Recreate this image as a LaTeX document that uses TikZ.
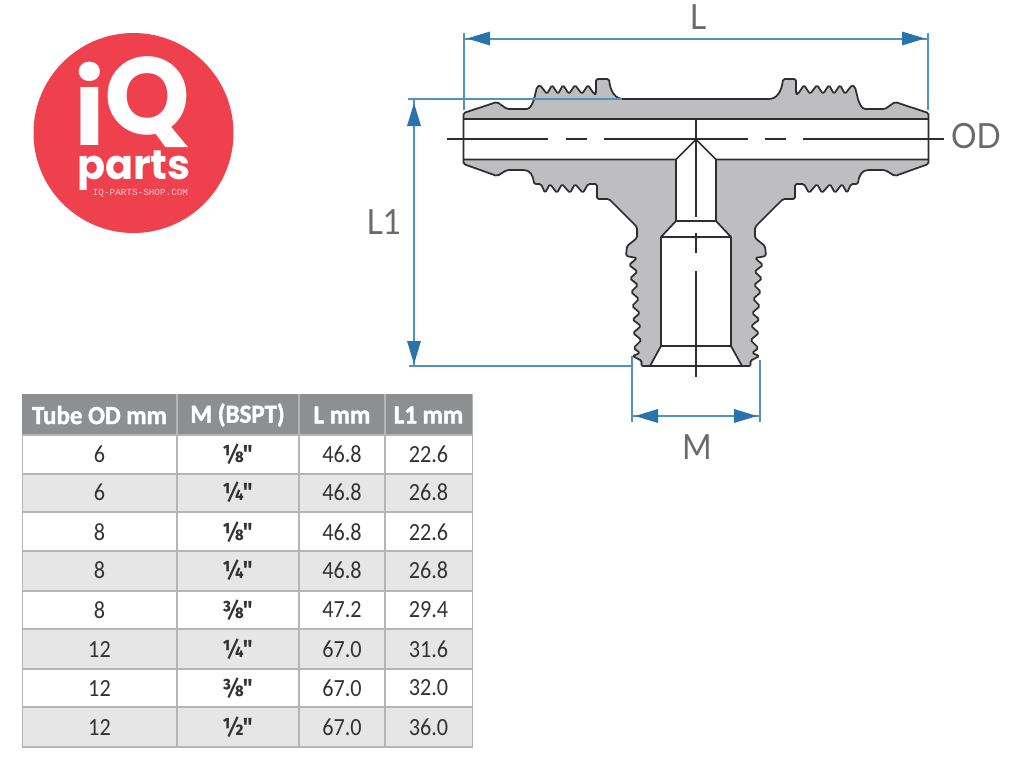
\documentclass[tikz,border=0pt]{standalone}
\usepackage{fontspec}
\setmainfont[FakeStretch=0.92]{Lato}
\newfontfamily\logofont{Poppins}
\newfontfamily\urlfont{Liberation Mono}
\newfontfamily\tablefont[FakeStretch=0.9]{Carlito}
\newfontfamily\headfont[FakeStretch=0.96,BoldFeatures={FakeBold=1.6}]{Carlito}
\newfontfamily\fracfont[FakeStretch=0.9]{Fira Sans}
\definecolor{logored}{HTML}{EE404D}
\definecolor{urlpink}{HTML}{F9C9CC}
\definecolor{fitgrey}{HTML}{BEBEC0}
\definecolor{fitline}{HTML}{2E2E2E}
\definecolor{dimline}{HTML}{4F93C3}
\definecolor{dimhead}{HTML}{2A74AD}
\definecolor{dimtext}{HTML}{6A6A6A}
\definecolor{headgrey}{HTML}{8E8F91}
\definecolor{rowgrey}{HTML}{E6E6E6}
\definecolor{gridgrey}{HTML}{B5B5B5}
\definecolor{celltext}{HTML}{333333}
\tikzset{
  fitstroke/.style={draw=fitline,line width=1.3pt,line join=round},
  dimstroke/.style={draw=dimline,line width=1.5pt},
  dimlabel/.style={text=dimtext,inner sep=0pt,font=\fontsize{26}{30}\selectfont},
  headcell/.style={text=white,inner sep=0pt,font=\headfont\bfseries\fontsize{19.5}{22}\selectfont},
  bodycell/.style={text=celltext,inner sep=0pt,font=\tablefont\fontsize{18.5}{22}\selectfont},
  fraccell/.style={text=celltext,inner sep=0pt,font=\fracfont\bfseries\fontsize{18.5}{22}\selectfont}
}
\newcommand{\fitoutline}{(696,99) -- (622,99) .. controls (613,97) and (610,88) .. (609,79) -- (596,79) -- (596,94)
  -- (594,94) -- (588,85) -- (582,94) -- (575,85) -- (569,94) -- (563,85) -- (558,94) -- (552,85) -- (547,94) -- (540,85) -- (537,87)
  -- (535,95) .. controls (533,104) and (530,109) .. (525,109) -- (507,109) -- (497,102) -- (463.5,113) -- (463.5,164)
  -- (497,176) -- (507,170) -- (522,170) .. controls (530,170) and (533,175) .. (534,184)
  -- (541,184) -- (545,193) -- (550,184) -- (557,193) -- (562,184) -- (570,193) -- (575,184) -- (583,193) -- (588,184) -- (597,184)
  -- (597,199) -- (609,199) -- (637,227) -- (637,238) -- (627,246) -- (626,256) -- (637,258)
  -- (629,265) -- (637.5,271.5) -- (630,278.5) -- (638,285) -- (631,292) -- (639,299) -- (632,306) -- (640,313)
  -- (632.5,319.5) -- (641,326) -- (633,333) -- (641.5,340) -- (633.5,348) -- (640,353) -- (632.5,356) -- (642,361) -- (641,366) -- (696,366)}
\newcommand{\borehalf}{(696,119) -- (463.5,119) -- (463.5,159.5) -- (676,159.5) -- (676,221) -- (661,237) -- (661,346) -- (650,366) -- (696,366) -- cycle}
\newcommand{\fithalf}{
  \fill [fitgrey,rounded corners=1.2pt] \fitoutline -- cycle;
  \fill [white] \borehalf;
  \draw [fitstroke,rounded corners=1.2pt] \fitoutline;
  \draw [fitstroke] (696,119) -- (463.5,119);
  \draw [fitstroke] (463.5,159.5) -- (676,159.5) -- (676,221) -- (661,237) -- (661,346) -- (650,366);
  \draw [fitstroke] (676,159.5) -- (696,139.5);
  \draw [fitstroke] (676,221) -- (696,221);
  \draw [fitstroke] (661,237) -- (696,237);
  \draw [fitstroke] (661,346) -- (696,346);
}
\begin{document}
\begin{tikzpicture}[x=0.75pt,y=-0.75pt]
    \useasboundingbox (0,0) rectangle (1024,768);
    % logo
    \fill [logored] (133.5,133) circle (100);
    \node (logoi) [text=white,inner sep=0pt,font=\logofont\bfseries\fontsize{78}{80}\selectfont] at (90,104) {i};
    \node (logoq) [text=white,inner sep=0pt,font=\logofont\bfseries\fontsize{82}{84}\selectfont] at (148,102) {Q};
    \node (logoparts) [text=white,inner sep=0pt,font=\logofont\bfseries\fontsize{31}{33}\selectfont] at (134,171) {parts};
    \node (logourl) [text=urlpink,inner sep=0pt,font=\urlfont\fontsize{7}{8}\selectfont] at (140.5,193) {IQ-PARTS-SHOP.COM};
    % fitting
    \fithalf
    \begin{scope}[shift={(1392,0)},xscale=-1]
      \fithalf
    \end{scope}
    % centre lines
    \draw [fitstroke] (447,139) -- (548,139);
    \draw [fitstroke] (566,139) -- (587,139);
    \draw [fitstroke] (604,139) -- (748,139);
    \draw [fitstroke] (765,139) -- (786,139);
    \draw [fitstroke] (803,139) -- (944,139);
    \draw [fitstroke] (696,119) -- (696,217);
    \draw [fitstroke] (696,233) -- (696,253);
    \draw [fitstroke] (696,271) -- (696,377);
    % dimension L
    \coordinate (lleft) at (463.5,38.5);
    \coordinate (lright) at (928,38.5);
    \draw [dimstroke] (lleft) -- (lright);
    \draw [dimstroke] (463.5,33) -- (463.5,110);
    \draw [dimstroke] (928,33) -- (928,110);
    \fill [dimhead] (467,38.5) -- (490,31.5) -- (490,45.5);
    \fill [dimhead] (925,38.5) -- (902,31.5) -- (902,45.5);
    \node (labell) [dimlabel] at (698,17) {L};
    % dimension L1
    \coordinate (lonetop) at (414,99);
    \coordinate (lonebot) at (414,366);
    \draw [dimstroke] (lonetop) -- (lonebot);
    \draw [dimstroke] (408,99) -- (622,99);
    \draw [dimstroke] (409,366) -- (632,366);
    \fill [dimhead] (414,103) -- (407,126) -- (421,126);
    \fill [dimhead] (414,364) -- (407,341) -- (421,341);
    \node (labellone) [dimlabel] at (384,222) {L1};
    % dimension M
    \coordinate (mleft) at (632,416);
    \coordinate (mright) at (760,416);
    \draw [dimstroke] (mleft) -- (mright);
    \draw [dimstroke] (632,356) -- (632,422);
    \draw [dimstroke] (760,360) -- (760,422);
    \fill [dimhead] (635,416) -- (658,409) -- (658,423);
    \fill [dimhead] (757,416) -- (734,409) -- (734,423);
    \node (labelm) [dimlabel] at (697,447) {M};
    \node (labelod) [dimlabel] at (976,136) {OD};
    % table
    \fill [headgrey] (22,394) rectangle (473,435);
    \fill [rowgrey] (22,474) rectangle (473,512);
    \fill [rowgrey] (22,551) rectangle (473,591);
    \fill [rowgrey] (22,629) rectangle (473,669);
    \fill [rowgrey] (22,707) rectangle (473,747);
    \draw [gridgrey,line width=1.1pt] (22,435) -- (473,435);
    \draw [gridgrey,line width=1.1pt] (22,474) -- (473,474);
    \draw [gridgrey,line width=1.1pt] (22,512) -- (473,512);
    \draw [gridgrey,line width=1.1pt] (22,551) -- (473,551);
    \draw [gridgrey,line width=1.1pt] (22,591) -- (473,591);
    \draw [gridgrey,line width=1.1pt] (22,629) -- (473,629);
    \draw [gridgrey,line width=1.1pt] (22,669) -- (473,669);
    \draw [gridgrey,line width=1.1pt] (22,707) -- (473,707);
    \draw [gridgrey,line width=1.1pt] (22,747) -- (473,747);
    \draw [gridgrey,line width=1.1pt] (177,394) -- (177,748);
    \draw [gridgrey,line width=1.1pt] (299,394) -- (299,748);
    \draw [gridgrey,line width=1.1pt] (385,394) -- (385,748);
    \draw [gridgrey,line width=1.1pt] (472.5,394) -- (472.5,748);
    \draw [gridgrey,line width=0.6pt] (22,435) -- (22,748);
    \node (headod) [headcell] at (99.5,415) {Tube OD mm};
    \node (headm) [headcell] at (237.5,415) {M (BSPT)};
    \node (headl) [headcell] at (342,415) {L mm};
    \node (headlone) [headcell] at (428.5,415) {L1 mm};
    \node (oda) [bodycell] at (99.5,454) {6};
    \node (ma) [fraccell] at (237.5,454) {⅛"};
    \node (la) [bodycell] at (342,454) {46.8};
    \node (lonea) [bodycell] at (428.5,454) {22.6};
    \node (odb) [bodycell] at (99.5,492.5) {6};
    \node (mb) [fraccell] at (237.5,492.5) {¼"};
    \node (lb) [bodycell] at (342,492.5) {46.8};
    \node (loneb) [bodycell] at (428.5,492.5) {26.8};
    \node (odc) [bodycell] at (99.5,532) {8};
    \node (mc) [fraccell] at (237.5,532) {⅛"};
    \node (lc) [bodycell] at (342,532) {46.8};
    \node (lonec) [bodycell] at (428.5,532) {22.6};
    \node (odd) [bodycell] at (99.5,570.5) {8};
    \node (md) [fraccell] at (237.5,570.5) {¼"};
    \node (ld) [bodycell] at (342,570.5) {46.8};
    \node (loned) [bodycell] at (428.5,570.5) {26.8};
    \node (ode) [bodycell] at (99.5,610) {8};
    \node (me) [fraccell] at (237.5,610) {⅜"};
    \node (le) [bodycell] at (342,610) {47.2};
    \node (lonee) [bodycell] at (428.5,610) {29.4};
    \node (odf) [bodycell] at (99.5,649) {12};
    \node (mf) [fraccell] at (237.5,649) {¼"};
    \node (lf) [bodycell] at (342,649) {67.0};
    \node (lonef) [bodycell] at (428.5,649) {31.6};
    \node (odg) [bodycell] at (99.5,688) {12};
    \node (mg) [fraccell] at (237.5,688) {⅜"};
    \node (lg) [bodycell] at (342,688) {67.0};
    \node (loneg) [bodycell] at (428.5,688) {32.0};
    \node (odh) [bodycell] at (99.5,727) {12};
    \node (mh) [fraccell] at (237.5,727) {½"};
    \node (lh) [bodycell] at (342,727) {67.0};
    \node (loneh) [bodycell] at (428.5,727) {36.0};
\end{tikzpicture}
\end{document}
